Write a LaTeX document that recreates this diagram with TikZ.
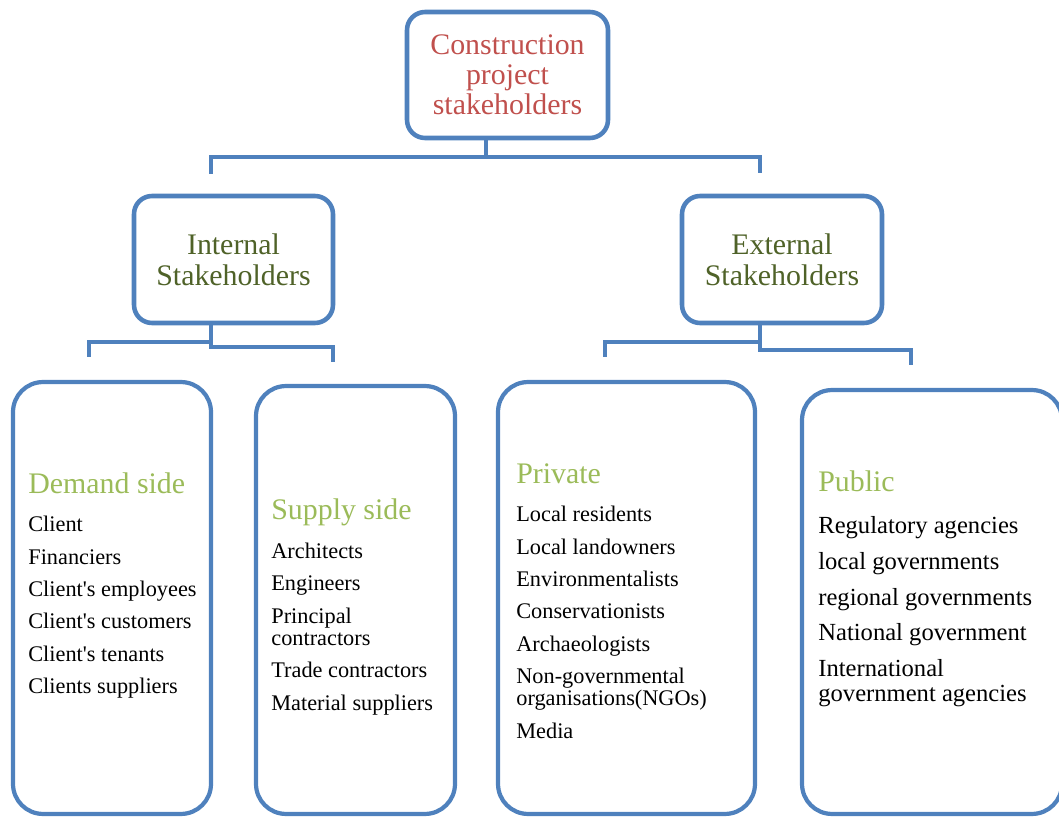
\documentclass[tikz,border=0pt]{standalone}
\usepackage{fontspec}
\setmainfont{Liberation Serif}[Ligatures=TeXOff]
\definecolor{boxblue}{HTML}{4F81BD}
\definecolor{titlered}{HTML}{C0504D}
\definecolor{darkolive}{HTML}{4F6228}
\definecolor{headgreen}{HTML}{9BBB59}
\tikzset{
	box/.style={draw=boxblue, line width=2.6pt, rounded corners=0.36cm, inner sep=0pt, align=center},
	tallbox/.style={draw=boxblue, line width=2.4pt, rounded corners=0.6cm, inner sep=0pt},
	conn/.style={draw=boxblue, line width=2.8pt},
	listtxt/.style={inner sep=0pt, anchor=base west}
}
\newcommand{\headline}[1]{\leavevmode{\color{headgreen}\fontsize{17}{17}\selectfont #1\par}\vspace{3.2pt}}

\begin{document}
\begin{tikzpicture}[x=0.02cm, y=-0.02cm]
	\useasboundingbox (0,0) rectangle (1059,817);
	% boxes of the first two levels
	\node[box, minimum width=4.02cm, minimum height=2.52cm, font=\fontsize{17}{17}\selectfont, text=titlered] (top) at (507.5,75) {Construction\\project\\stakeholders};
	\node[box, minimum width=3.98cm, minimum height=2.54cm, font=\fontsize{17}{17.6}\selectfont, text=darkolive] (int) at (233.5,259.5) {Internal\\Stakeholders};
	\node[box, minimum width=4cm, minimum height=2.54cm, font=\fontsize{17}{17.6}\selectfont, text=darkolive] (ext) at (782,259.5) {External\\Stakeholders};
	% tall boxes
	\node[tallbox, minimum width=3.96cm, minimum height=8.64cm] (demand) at (112,598) {};
	\node[tallbox, minimum width=3.98cm, minimum height=8.56cm] (supply) at (355.5,600) {};
	\node[tallbox, minimum width=5.14cm, minimum height=8.64cm] (private) at (626.5,598) {};
	\node[tallbox, minimum width=5.2cm, minimum height=8.48cm] (public) at (932,602) {};
	% connectors
	\coordinate (j0) at (486,157);
	\coordinate (d1) at (211,174);
	\coordinate (d2) at (760,173);
	\draw[conn] (top.south -| j0) -- (j0);
	\draw[conn] (d1) |- (j0) -| (d2);
	\coordinate (ja) at (211,347);
	\coordinate (jb) at (211,342);
	\coordinate (da) at (89,357);
	\coordinate (db) at (333,362);
	\draw[conn] (int.south -| ja) -- (ja) -| (db);
	\draw[conn] (da) |- (jb);
	\coordinate (jc) at (760,350);
	\coordinate (jd) at (760,342);
	\coordinate (dc) at (605,357);
	\coordinate (dd) at (911,365);
	\draw[conn] (ext.south -| jc) -- (jc) -| (dd);
	\draw[conn] (dc) |- (jd);
	% texts in the tall boxes
	\node[listtxt] (demandtxt) at (28,494) {\parbox[t]{4cm}{\fontsize{12.7}{18.4}\selectfont
		\headline{Demand side}
		Client\par Financiers\par Client's employees\par Client's customers\par Client's tenants\par Clients suppliers}};
	\node[listtxt] (supplytxt) at (271,520) {\parbox[t]{4cm}{\fontsize{12.7}{18.5}\selectfont
		\headline{Supply side}
		Architects\par Engineers\par Principal\\[-5.8pt]contractors\par Trade contractors\par Material suppliers}};
	\node[listtxt] (privatetxt) at (516,484) {\parbox[t]{5cm}{\fontsize{12.7}{18.4}\selectfont
		\headline{Private}
		Local residents\par Local landowners\par Environmentalists\par Conservationists\par Archaeologists\par Non-governmental\\[-5.8pt]organisations(NGOs)\par Media}};
	\node[listtxt] (publictxt) at (818,492) {\parbox[t]{5cm}{\fontsize{14}{20.4}\selectfont
		\headline{Public}
		Regulatory agencies\par local governments\par regional governments\par National government\par International\\[-6.2pt]government agencies}};
\end{tikzpicture}
\end{document}
